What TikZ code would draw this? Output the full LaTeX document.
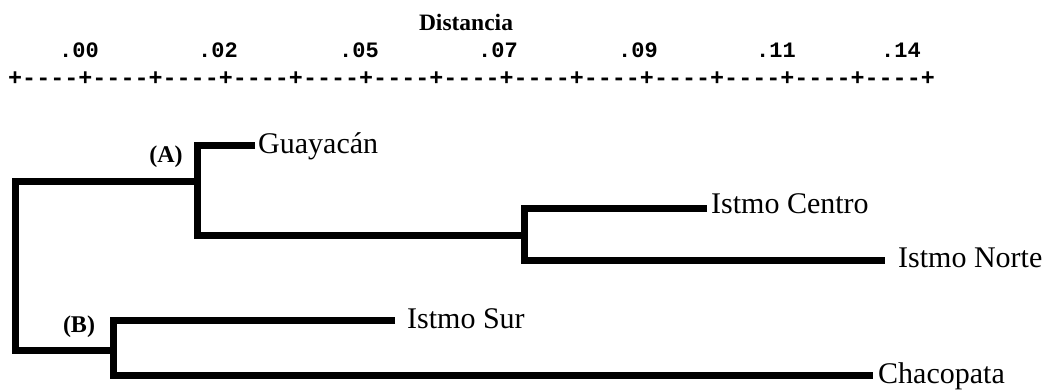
\documentclass[tikz,border=0pt]{standalone}
\usepackage{fontspec}
\setmainfont{Liberation Serif}
\setmonofont{Liberation Mono}
\tikzset{
  branch/.style={line width=7pt, line join=miter, line cap=butt, black},
  leaf/.style={anchor=base west, inner sep=0pt, font=\fontsize{30}{35}\selectfont},
  cladelabel/.style={anchor=center, inner sep=0pt, font=\bfseries\fontsize{24}{28}\selectfont},
  ticklabel/.style={anchor=base, inner sep=0pt, font=\ttfamily\bfseries\fontsize{22}{26}\selectfont},
  axisline/.style={anchor=base west, inner sep=0pt, font=\ttfamily\bfseries\fontsize{23.4}{27}\selectfont},
}
\begin{document}
\begin{tikzpicture}[x=1pt,y=-1pt]
\useasboundingbox (0,0) rectangle (1047,391);
% axis
\node[anchor=base, inner sep=0pt, font=\bfseries\fontsize{23.5}{27}\selectfont] (title) at (466,30) {Distancia};
\node[ticklabel] (t0) at (79,57) {.00};
\node[ticklabel] (t1) at (218,57) {.02};
\node[ticklabel] (t2) at (359,57) {.05};
\node[ticklabel] (t3) at (498,57) {.07};
\node[ticklabel] (t4) at (638,57) {.09};
\node[ticklabel] (t5) at (776,57) {.11};
\node[ticklabel] (t6) at (901,57) {.14};
\node[axisline] (axis) at (8,85) {+----+----+----+----+----+----+----+----+----+----+----+----+----+};
% junctions
\coordinate (Rt) at (15,181);
\coordinate (Rb) at (15,350);
\coordinate (At) at (197,145);
\coordinate (Ab) at (197,235);
\coordinate (Ct) at (524,208);
\coordinate (Cb) at (524,260);
\coordinate (Bt) at (113,320);
\coordinate (Bb) at (113,375);
% leaf ends
\coordinate (gE) at (255,145);
\coordinate (cE) at (707,208);
\coordinate (nE) at (885,260);
\coordinate (sE) at (395,320);
\coordinate (chE) at (873,375);
% leaves
\node[leaf] (g) at (258,153) {Guayacán};
\node[leaf] (c) at (711,213) {Istmo Centro};
\node[leaf] (n) at (898,267) {Istmo Norte};
\node[leaf] (s) at (407,328) {Istmo Sur};
\node[leaf] (ch) at (878,383) {Chacopata};
% clade labels
\node[cladelabel] (la) at (166,157) {(A)};
\node[cladelabel] (lb) at (79,327) {(B)};
% tree
\draw[branch] (At |- Rt) -- (Rt) -- (Rb) -- (Bt |- Rb);
\draw[branch] (gE) -- (At) -- (Ab) -- (Ct |- Ab);
\draw[branch] (cE) -- (Ct) -- (Cb) -- (nE);
\draw[branch] (sE) -- (Bt) -- (Bb) -- (chE);
\end{tikzpicture}
\end{document}
